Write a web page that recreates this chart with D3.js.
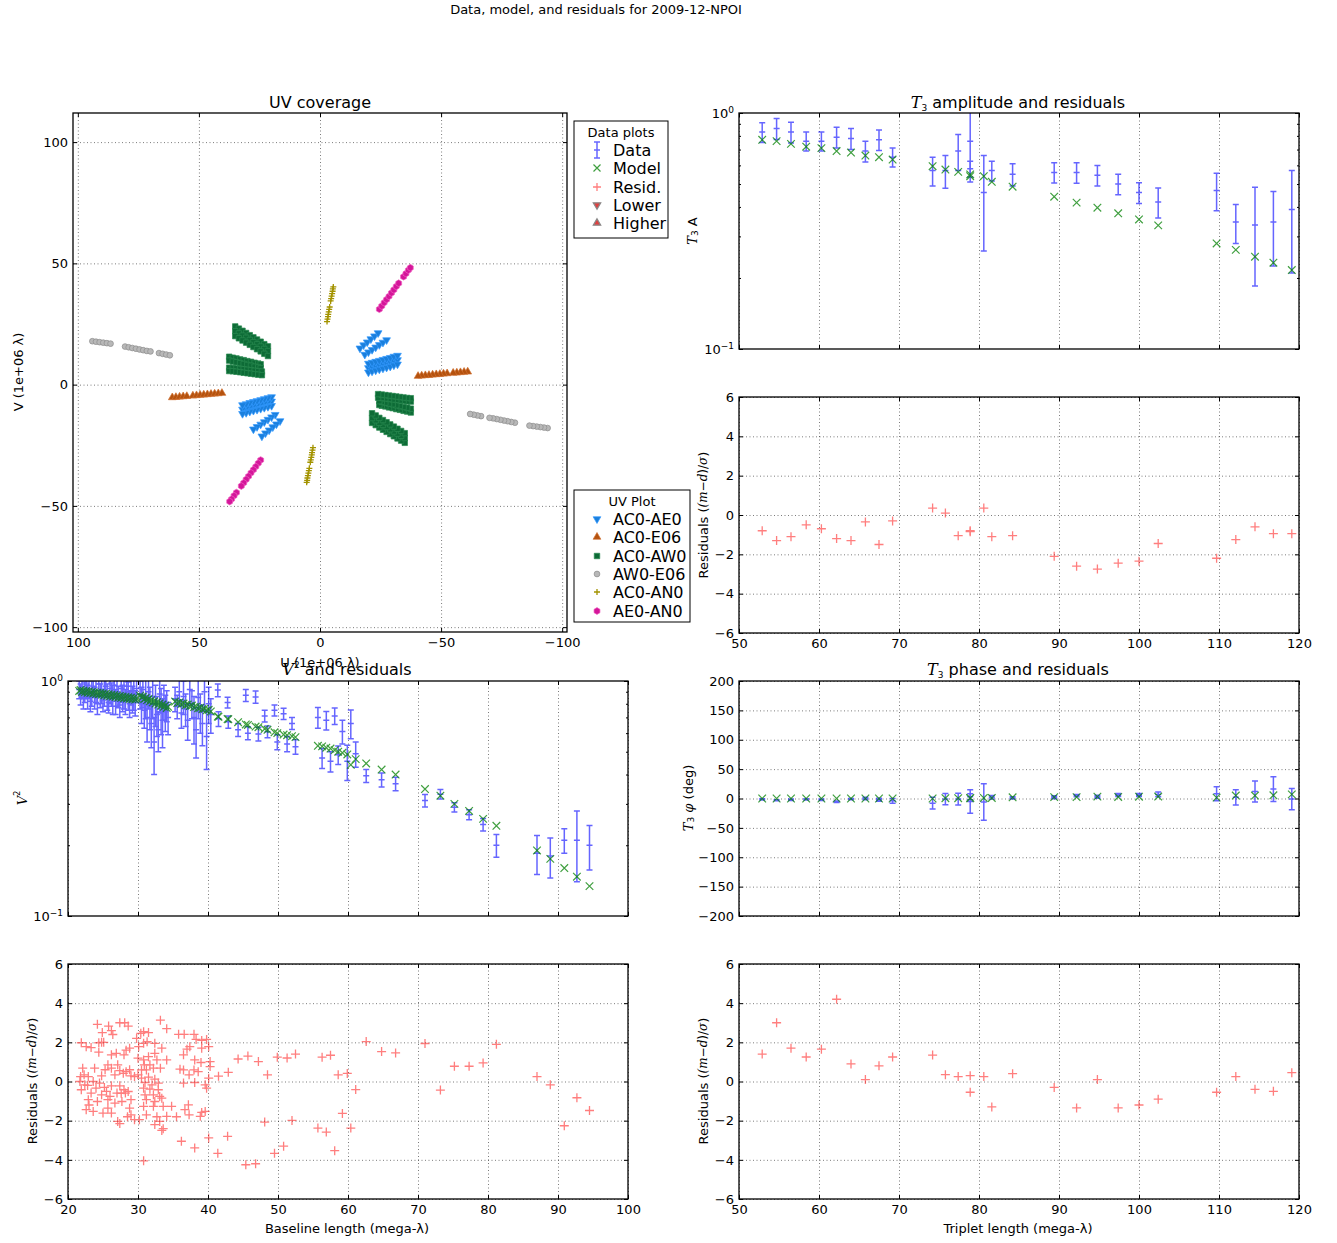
<!DOCTYPE html>
<html><head><meta charset="utf-8">
<script src="https://cdn.jsdelivr.net/npm/d3@7"></script>
<style>body{margin:0;background:#fff} text{font-family:"DejaVu Sans",sans-serif;fill:#000}</style>
</head><body><svg id="c" width="1337" height="1243"></svg>
<script>
// ---------------- DATA ----------------
const uvTicks = [100,50,0,-50,-100];
const t3xTicks = [50,60,70,80,90,100,110,120];
const v2xTicks = [20,30,40,50,60,70,80,90,100];
const residTicks = [-6,-4,-2,0,2,4,6];
const phaseTicks = [-200,-150,-100,-50,0,50,100,150,200];
const logTicks = [0.1,1];
const logMinor = [0.2,0.3,0.4,0.5,0.6,0.7,0.8,0.9];

// UV coverage (one half; conjugate points (-u,-v) are also plotted)
const uvAE0u = [-16.5,-18,-19.5,-21,-22.5,-24, -18.5,-20,-21.5,-23,-24.5,-26,-27.5,
  -20,-21.5,-23,-24.5,-26,-27.5,-29,-30.5,-32, -20,-21.5,-23,-24.5,-26,-27.5,-29,-30.5,-32, -20,-21.5,-23,-24.5,-26,-27.5,-29,-30.5,-32];
const uvAE0v = [15.0,16.3,17.5,18.8,20.0,21.3, 12.4,13.4,14.4,15.4,16.4,17.4,18.4,
  6.9,7.3,7.7,8.1,8.5,8.9,9.3,9.8,10.2, 8.7,9.1,9.5,9.9,10.3,10.7,11.1,11.6,12.0, 5.1,5.5,5.9,6.3,6.7,7.1,7.5,8.0,8.4];
const uvE06u = [61,59.5,58,56.5,55, 52.5,51,49.5,48,46.5,45, 43.5,42,40.5];
const uvE06v = [-5.3,-5.2,-5.05,-4.9,-4.8, -4.6,-4.45,-4.3,-4.2,-4.05,-3.9, -3.8,-3.65,-3.5];
const uvAW0u = [35,33.5,32,30.5,29,27.5,26,24.5,23,21.5, 35,33.5,32,30.5,29,27.5,26,24.5,23,21.5, 35,33.5,32,30.5,29,27.5,26,24.5,23,21.5,
  37.5,36,34.5,33,31.5,30,28.5,27,25.5,24.5, 37.5,36,34.5,33,31.5,30,28.5,27,25.5,24.5,
  37.5,36,34.5,33,31.5,30,28.5,27,25.5,24, 37.5,36,34.5,33,31.5,30,28.5,27,25.5,24];
const uvAW0v = [24.0,23.1,22.2,21.3,20.4,19.5,18.6,17.7,16.7,15.8, 22.0,21.1,20.2,19.3,18.4,17.5,16.6,15.7,14.7,13.8, 20.0,19.1,18.2,17.3,16.4,15.5,14.6,13.7,12.7,11.8,
  11.5,11.1,10.8,10.4,10.1,9.7,9.4,9.0,8.7,8.4, 9.9,9.5,9.2,8.8,8.5,8.1,7.8,7.4,7.1,6.8,
  7.0,6.9,6.7,6.5,6.3,6.1,5.9,5.7,5.5,5.4, 5.6,5.5,5.3,5.1,4.9,4.7,4.5,4.3,4.1,3.9];
const uvW06u = [94,92.5,91,89.5,88,86.5, 80.5,79,77.5,76,74.5,73,71.5,70, 66.5,65,63.5,62];
const uvW06v = [17.9,17.7,17.5,17.3,17.1,16.9, 15.7,15.4,15.1,14.8,14.5,14.2,13.9,13.7, 13.0,12.7,12.4,12.1];
const uvAN0u = [-2.9,-3.1,-3.3,-3.4,-3.6,-3.8,-4.0, -4.4,-4.6,-4.8,-5.0,-5.2,-5.3,-5.5];
const uvAN0v = [26,27,28,29,30,31,32, 34.5,35.5,36.5,37.5,38.5,39.5,40.3];
const uvEANu = [-24.5,-25.5,-26.5,-27.5,-28.5,-29.5,-30.5,-31.5,-32.5, -34.5,-35.5,-36.5,-37.3];
const uvEANv = [31.1,32.4,33.8,35.1,36.4,37.8,39.1,40.5,41.8, 44.5,45.8,47.2,48.2];

// Triple products
const t3x = [52.9,54.7,56.5,58.4,60.3,62.2,64.0,65.8,67.5,69.2,74.2,75.8,77.4,78.9,78.9,80.6,81.6,84.2,89.4,92.2,94.8,97.4,100.0,102.4,109.7,112.1,114.5,116.8,119.1];
const t3ampData = [0.83,0.86,0.83,0.76,0.76,0.79,0.78,0.69,0.77,0.65,0.57,0.57,0.69,0.76,0.58,0.46,0.57,0.55,0.56,0.56,0.545,0.50,0.46,0.42,0.47,0.345,0.335,0.345,0.39];
const t3ampErr = [0.08,0.087,0.083,0.07,0.07,0.08,0.08,0.07,0.077,0.06,0.08,0.09,0.12,0.25,0.045,0.2,0.055,0.06,0.055,0.056,0.054,0.05,0.046,0.061,0.085,0.065,0.15,0.12,0.18];
const t3ampModel = [0.77,0.76,0.74,0.72,0.71,0.69,0.68,0.66,0.65,0.635,0.595,0.576,0.563,0.549,0.54,0.54,0.511,0.487,0.442,0.417,0.397,0.376,0.354,0.334,0.28,0.263,0.246,0.232,0.216];
const t3ampResid = [-0.8,-1.3,-1.1,-0.5,-0.7,-1.2,-1.3,-0.35,-1.5,-0.3,0.35,0.1,-1.05,-0.85,-0.8,0.35,-1.1,-1.05,-2.1,-2.6,-2.75,-2.45,-2.35,-1.45,-2.2,-1.25,-0.6,-0.95,-0.95];
const t3phiData = [-1.5,-3,-2,-1.5,-2,-5.5,-1,0,-2,-4,-8,-1,-1,-5,3,-6,2,1,2,5,3,6,6,7,8,2,12,16,-1];
const t3phiErr = [1.1,1,1.2,1.2,1.2,1.3,1.1,2,2.5,4,10,9.5,10,20,5,31,3,2,2.5,2,2.5,2.5,2.5,4,12,13,18,21,18];
const t3phiModel = [0,0,0,0,0,0,0,0,0,0,0,0.5,0.5,1,0.5,1,1,2,2.3,2.3,3.2,2.6,3,3.4,1.5,5,5,5.5,7];
const t3phiResid = [1.4,3.0,1.7,1.25,1.65,4.2,0.9,0.1,0.8,1.25,1.35,0.35,0.25,0.3,-0.55,0.25,-1.3,0.4,-0.3,-1.35,0.1,-1.35,-1.2,-0.9,-0.55,0.25,-0.4,-0.5,0.45];

// Squared visibilities
const v2x = [21.6,21.8,22.0,22.2,22.4,22.6,22.8,23.0,23.2,23.4,23.6,23.8,24.0,24.2,24.4,24.6,24.8,25.0,25.2,25.4,25.6,25.8,26.0,26.2,26.4,26.6,26.8,27.0,27.2,27.4,27.6,27.8,28.0,28.2,28.4,28.6,28.8,29.0,29.2,29.4,29.6,29.8,
  30.3,30.5,30.7,30.9,31.1,31.3,31.5,31.7,31.9,32.1,32.3,32.5,32.7,32.9,33.1,33.3,33.5,33.7,33.9,34.1,34.3,
  35.3,35.6,35.9,36.2,36.5,36.8,37.1,37.4,37.7,38.0,38.3,38.6,38.9,39.2,39.5,39.8,40.1,40.4,
  41.4,41.5,42.8,42.9,44.3,45.4,45.7,46.8,47.2,48.1,48.5,49.5,49.9,50.8,51.3,52.0,52.5,55.7,56.3,56.9,57.5,58.1,58.6,59.2,59.9,60.4,61.1,62.6,64.8,66.8,71.0,73.2,75.2,77.3,79.3,81.2,87.0,88.9,90.9,92.7,94.5];
const v2Data = [0.92,0.88,0.95,0.84,0.90,0.97,0.86,0.93,0.82,0.89,0.95,0.85,0.91,0.80,0.97,0.87,0.92,0.83,0.90,0.95,0.86,0.81,0.93,0.88,0.84,0.96,0.82,0.90,0.86,0.79,0.93,0.85,0.89,0.82,0.95,0.87,0.80,0.91,0.84,0.88,0.81,0.93,
  0.88,0.80,0.92,0.75,0.85,0.70,0.90,0.78,0.66,0.86,0.55,0.80,0.72,0.62,0.88,0.76,0.68,0.82,0.74,0.79,0.70,
  0.84,0.78,0.90,0.73,0.86,0.76,0.68,0.92,0.80,0.70,0.62,0.85,0.74,0.66,0.90,0.58,0.80,0.72,
  0.915,0.69,0.81,0.67,0.62,0.87,0.60,0.855,0.595,0.71,0.608,0.75,0.55,0.725,0.54,0.66,0.525,0.70,0.47,0.68,0.455,0.71,0.485,0.61,0.455,0.66,0.49,0.395,0.38,0.365,0.31,0.33,0.29,0.27,0.245,0.20,0.185,0.18,0.21,0.21,0.20];
const v2Err = [0.08,0.09,0.10,0.08,0.09,0.12,0.10,0.09,0.08,0.11,0.09,0.09,0.10,0.08,0.11,0.10,0.12,0.09,0.12,0.10,0.11,0.08,0.13,0.10,0.12,0.11,0.10,0.12,0.09,0.09,0.12,0.11,0.13,0.10,0.13,0.12,0.10,0.12,0.11,0.13,0.10,0.12,
  0.12,0.14,0.15,0.12,0.16,0.15,0.14,0.16,0.14,0.17,0.15,0.16,0.14,0.12,0.15,0.17,0.16,0.14,0.13,0.12,0.11,
  0.10,0.09,0.12,0.10,0.14,0.12,0.12,0.13,0.11,0.16,0.15,0.16,0.14,0.13,0.15,0.16,0.14,0.12,
  0.057,0.05,0.043,0.04,0.04,0.051,0.038,0.051,0.04,0.041,0.035,0.04,0.04,0.04,0.04,0.039,0.037,0.071,0.046,0.062,0.045,0.057,0.044,0.07,0.078,0.092,0.06,0.025,0.026,0.024,0.019,0.015,0.013,0.013,0.015,0.022,0.035,0.035,0.025,0.07,0.043];
const v2Model = [0.907,0.915,0.898,0.910,0.895,0.906,0.892,0.903,0.888,0.899,0.884,0.896,0.880,0.892,0.878,0.889,0.874,0.886,0.870,0.882,0.866,0.878,0.862,0.875,0.858,0.871,0.855,0.867,0.851,0.863,0.848,0.859,0.845,0.856,0.842,0.852,0.839,0.849,0.836,0.846,0.833,0.843,
  0.866,0.852,0.857,0.838,0.846,0.829,0.838,0.820,0.829,0.811,0.820,0.802,0.812,0.794,0.803,0.785,0.794,0.776,0.786,0.768,0.777,
  0.818,0.806,0.810,0.798,0.802,0.790,0.794,0.782,0.786,0.774,0.778,0.766,0.770,0.758,0.762,0.750,0.754,0.742,
  0.706,0.705,0.689,0.688,0.668,0.653,0.650,0.640,0.636,0.625,0.620,0.605,0.600,0.592,0.588,0.582,0.577,0.530,0.527,0.520,0.516,0.508,0.500,0.495,0.487,0.440,0.465,0.446,0.420,0.400,0.347,0.325,0.300,0.280,0.259,0.242,0.190,0.175,0.160,0.147,0.134];
const v2ResX = [24.2,25.8,24.9,26.2,26.4,27.4,28.1,28.6,21.9,22.6,23.3,24.4,24.8,25.1,24.4,26.2,26.9,28.3,28.8,28.0,25.7,25.3,26.2,27.1,27.4,27.9,28.3,28.8,22.1,23.8,22.3,22.9,24.8,21.8,26.7,29.0,29.5,23.6,24.5,21.7,22.4,24.0,25.2,26.2,27.4,28.0,28.6,21.9,23.3,24.8,26.0,27.0,28.2,29.0,22.9,24.2,25.7,26.7,27.7,22.6,23.6,25.7,26.2,28.8,25.0,29.0,27.1,28.5,29.5,27.4,30.2,30.4,30.1,30.0,30.0,29.8,23.0,22.8,25.5,27.6,
  33.2,34.1,35.8,36.6,38.0,38.3,39.1,39.8,30.8,31.5,31.3,32.4,30.8,33.4,37.0,37.4,39.1,40.1,32.4,31.5,32.7,34.1,36.5,38.1,39.0,40.3,30.8,30.9,31.7,30.5,31.2,32.2,33.2,36.0,36.5,38.0,38.6,37.3,40.3,30.5,31.5,32.4,31.0,32.0,32.9,36.5,38.1,39.6,40.1,30.8,31.7,32.9,39.8,31.0,32.2,33.1,31.2,32.4,33.4,30.8,32.2,33.6,34.8,36.7,37.2,39.1,39.6,31.2,32.7,34.1,35.5,37.3,38.9,33.1,32.4,33.6,33.4,36.2,38.1,40.1,30.8,
  41.4,41.5,42.8,42.9,44.3,45.4,45.7,46.8,47.2,48.1,48.5,49.5,49.9,50.8,51.3,52.0,52.5,55.7,56.3,56.9,57.5,58.1,58.6,59.2,59.9,60.4,61.1,62.6,64.8,66.8,71.0,73.2,75.2,77.3,79.3,81.2,87.0,88.9,90.9,92.7,94.5];
const v2Resid = [2.92,2.83,2.5,2.6,2.4,3.0,3.0,2.83,1.98,1.78,1.73,1.98,2.0,2.0,1.5,1.36,1.44,1.6,1.7,1.36,0.85,0.6,0.68,0.85,0.56,0.42,0.5,0.6,0.68,0.68,0.34,0.25,0.29,0.25,0.34,0.29,0.25,0,-0.08,0,-0.17,-0.34,-0.3,-0.22,-0.22,-0.42,-0.51,-0.42,-0.59,-0.68,-0.76,-0.59,-0.59,-0.93,-0.93,-1.02,-0.93,-1.1,-1.02,-1.44,-1.53,-1.36,-1.61,-1.36,-1.61,-1.7,-2.04,-1.8,-1.95,-2.15,-1.95,2.46,1.78,1.19,0.34,2.2,-1.2,-0.2,-0.5,-0.6,
  3.13,2.7,2.41,2.41,2.41,2.15,2.1,2.15,2.54,2.5,2.03,1.95,1.95,1.7,1.65,1.78,1.7,1.78,1.44,1.27,1.1,1.1,1.36,1.1,0.97,1.02,1.1,0.85,0.85,0.59,0.59,0.68,0.68,0.63,0.59,0.59,0.5,0.34,0.76,0.17,0.22,0.12,-0.05,-0.17,-0.08,-0.08,-0.05,-0.17,0.17,-0.34,-0.39,-0.42,-0.34,-0.68,-0.68,-0.76,-0.93,-1.02,-0.85,-1.27,-1.27,-1.27,-1.27,-1.44,-1.19,-1.58,-1.53,-1.7,-1.8,-1.78,-1.8,-1.7,-1.78,-2.04,-2.2,-2.41,-2.5,-3.05,-3.39,-2.88,-4.05,
  -3.67,0.27,-2.8,0.47,1.15,-4.25,1.3,-4.2,1.02,-2.07,0.34,-3.67,1.24,-3.3,1.2,-1.99,1.4,-2.38,1.24,-2.58,1.34,-3.53,0.34,-1.63,0.41,-2.38,-0.41,2.04,1.53,1.46,1.94,-0.44,0.78,0.78,0.95,1.9,0.25,-0.17,-2.26,-0.83,-1.48];

// ---------------- DRAWING ----------------
const svg = d3.select('#c');
let clipN = 0;
const BLUE = '#0000ff', GREEN = '#008000', RED = '#ff0000';

function panel(o){
  const g = svg.append('g');
  const x = d3.scaleLinear().domain(o.xd).range([o.x0, o.x0 + o.w]);
  const y = (o.log ? d3.scaleLog() : d3.scaleLinear()).domain(o.yd).range([o.y0 + o.h, o.y0]);
  const id = 'clip' + (clipN++);
  svg.append('clipPath').attr('id', id).append('rect')
    .attr('x', o.x0).attr('y', o.y0).attr('width', o.w).attr('height', o.h);
  const grid = g.append('g');
  grid.append('g').attr('transform', `translate(0,${o.y0 + o.h})`)
    .call(d3.axisBottom(x).tickValues(o.xt).tickSize(-o.h).tickFormat(''));
  if (o.yg) grid.append('g').attr('transform', `translate(${o.x0},0)`)
    .call(d3.axisLeft(y).tickValues(o.yg).tickSize(-o.w).tickFormat(''));
  grid.selectAll('.domain').remove();
  grid.selectAll('line').attr('stroke', '#000').attr('stroke-width', 0.8)
    .attr('stroke-dasharray', '1,2.5').attr('opacity', 0.65);
  const data = g.append('g').attr('clip-path', `url(#${id})`);
  const axes = g.append('g');
  const fmt = o.fmt || d3.format('d');
  axes.append('g').attr('transform', `translate(0,${o.y0 + o.h})`)
    .call(d3.axisBottom(x).tickValues(o.xt).tickSize(-4).tickPadding(6).tickFormat(o.xlab ? fmt : ''));
  axes.append('g').attr('transform', `translate(0,${o.y0})`)
    .call(d3.axisTop(x).tickValues(o.xt).tickSize(-4).tickFormat(''));
  const left = axes.append('g').attr('transform', `translate(${o.x0},0)`)
    .call(d3.axisLeft(y).tickValues(o.yt).tickSize(-4).tickPadding(5).tickFormat(o.log ? (d => '10') : fmt));
  axes.append('g').attr('transform', `translate(${o.x0 + o.w},0)`)
    .call(d3.axisRight(y).tickValues(o.yt).tickSize(-4).tickFormat(''));
  if (o.log) {
    axes.append('g').attr('transform', `translate(${o.x0},0)`)
      .call(d3.axisLeft(y).tickValues(logMinor).tickSize(-2).tickFormat(''));
    axes.append('g').attr('transform', `translate(${o.x0 + o.w},0)`)
      .call(d3.axisRight(y).tickValues(logMinor).tickSize(-2).tickFormat(''));
    left.selectAll('.tick text').each(function(d){
      const e = Math.round(Math.log10(d));
      d3.select(this).append('tspan').attr('dy', -5).attr('font-size', 9)
        .text(e < 0 ? '\u2212' + (-e) : '' + e);
    });
  }
  axes.selectAll('.domain').remove();
  axes.selectAll('.tick line').attr('stroke', '#000').attr('stroke-width', 1);
  axes.selectAll('.tick text').attr('font-size', 13).attr('fill', '#000')
    .attr('font-family', '"DejaVu Sans",sans-serif');
  g.append('rect').attr('x', o.x0).attr('y', o.y0).attr('width', o.w).attr('height', o.h)
    .attr('fill', 'none').attr('stroke', '#000').attr('stroke-width', 1.3);
  return {x, y, data, o};
}

function errorbars(p, xs, d, e){
  const pts = xs.map((v, i) => ({x: v, d: d[i], e: e[i]}));
  const lo = p.o.log ? p.o.yd[0] * 0.5 : -1e9;
  const g = p.data.append('g').attr('stroke', BLUE).attr('stroke-width', 1.5).attr('opacity', 0.6).attr('fill', 'none');
  g.selectAll('path').data(pts).join('path').attr('d', q => {
    const X = p.x(q.x), Y1 = p.y(q.d + q.e), Y2 = p.y(Math.max(q.d - q.e, lo)), Y = p.y(q.d);
    return `M${X},${Y1}V${Y2}M${X - 3},${Y1}h6M${X - 3},${Y2}h6M${X - 3},${Y}h6`;
  });
}
function crosses(p, xs, ys, col, h, op, sw){
  const pts = xs.map((v, i) => [v, ys[i]]);
  p.data.append('g').attr('stroke', col).attr('stroke-width', sw).attr('opacity', op).attr('fill', 'none')
    .selectAll('path').data(pts).join('path').attr('d', q => {
      const X = p.x(q[0]), Y = p.y(q[1]);
      return `M${X - h},${Y - h}l${2 * h},${2 * h}M${X - h},${Y + h}l${2 * h},${-2 * h}`;
    });
}
function pluses(p, xs, ys, col, h, op, sw){
  const pts = xs.map((v, i) => [v, ys[i]]);
  p.data.append('g').attr('stroke', col).attr('stroke-width', sw).attr('opacity', op).attr('fill', 'none')
    .selectAll('path').data(pts).join('path').attr('d', q => {
      const X = p.x(q[0]), Y = p.y(q[1]);
      return `M${X - h},${Y}h${2 * h}M${X},${Y - h}v${2 * h}`;
    });
}

function txt(x, y, s, size, anchor, rot){
  const t = svg.append('text').attr('x', x).attr('y', y).attr('font-size', size)
    .attr('text-anchor', anchor || 'middle');
  if (rot) t.attr('transform', `rotate(-90,${x},${y})`).attr('dominant-baseline', 'central');
  if (typeof s === 'string') t.text(s);
  else s.forEach(part => {
    const sp = t.append('tspan').text(part.t);
    if (part.it) sp.attr('font-family', '"DejaVu Serif",serif').attr('font-style', 'italic');
    if (part.fs) sp.attr('font-size', part.fs);
    if (part.dy) sp.attr('dy', part.dy);
  });
  return t;
}
const T3 = [{t: 'T', it: 1}, {t: '3', fs: 9, dy: 3}];
const residLabel = [{t: 'Residuals ('}, {t: '(', it: 1, fs: 12}, {t: 'm', it: 1, fs: 12}, {t: '\u2212', fs: 12}, {t: 'd', it: 1, fs: 12}, {t: ')/', fs: 12}, {t: '\u03c3', it: 1, fs: 12}, {t: ')'}];

// main title
txt(596, 14, 'Data, model, and residuals for 2009-12-NPOI', 13);

// ---- UV coverage ----
const uv = panel({x0: 73, y0: 113, w: 494, h: 519, xd: [102, -102], yd: [-102, 112], xt: uvTicks, yt: uvTicks, yg: uvTicks, xlab: true});
const hexType = {draw(ctx, size){
  const r = Math.sqrt(size / (1.5 * Math.sqrt(3)));
  for (let i = 0; i < 6; i++) {
    const a = Math.PI / 3 * i + Math.PI / 6;
    if (i === 0) ctx.moveTo(r * Math.cos(a), r * Math.sin(a)); else ctx.lineTo(r * Math.cos(a), r * Math.sin(a));
  }
  ctx.closePath();
}};
const uvSeries = [
  {name: 'AC0-AE0', u: uvAE0u, v: uvAE0v, type: d3.symbolTriangle, rot: 180, size: 26, fill: '#1a7fdc', stroke: '#3399ff'},
  {name: 'AC0-E06', u: uvE06u, v: uvE06v, type: d3.symbolTriangle, rot: 0, size: 26, fill: '#b5520e', stroke: '#d07030'},
  {name: 'AC0-AW0', u: uvAW0u, v: uvAW0v, type: d3.symbolSquare, rot: 0, size: 30, fill: '#0d6b36', stroke: '#2a8a50'},
  {name: 'AW0-E06', u: uvW06u, v: uvW06v, type: d3.symbolCircle, rot: 0, size: 26, fill: '#b8b8b8', stroke: '#8c8c8c'},
  {name: 'AC0-AN0', u: uvAN0u, v: uvAN0v, type: 'plus', rot: 0, size: 0, fill: 'none', stroke: '#a39300'},
  {name: 'AE0-AN0', u: uvEANu, v: uvEANv, type: hexType, rot: 0, size: 30, fill: '#d4169a', stroke: '#f060c0'}
];
function drawSym(g, s, X, Y){
  if (s.type === 'plus') {
    g.append('path').attr('d', `M${X - 3},${Y}h6M${X},${Y - 3}v6`).attr('stroke', s.stroke).attr('stroke-width', 1.3).attr('fill', 'none');
  } else {
    g.append('path').attr('d', d3.symbol().type(s.type).size(s.size)())
      .attr('transform', `translate(${X},${Y}) rotate(${s.rot})`)
      .attr('fill', s.fill).attr('stroke', s.stroke).attr('stroke-width', 0.7);
  }
}
uvSeries.forEach(s => {
  const g = uv.data.append('g');
  s.u.forEach((u, i) => {
    drawSym(g, s, uv.x(u), uv.y(s.v[i]));
    drawSym(g, s, uv.x(-u), uv.y(-s.v[i]));
  });
});
txt(320, 108, 'UV coverage', 16);
txt(18, 372, 'V (1e+06 \u03bb)', 13, 'middle', true);
txt(320, 667, 'U (1e+06 \u03bb)', 13);

// legends
const lg1 = svg.append('g');
lg1.append('rect').attr('x', 574).attr('y', 121).attr('width', 94).attr('height', 117).attr('fill', '#fff').attr('stroke', '#000').attr('stroke-width', 1);
txt(621, 137, 'Data plots', 13);
const lgY = [150, 168, 187, 205, 223];
const lgNames = ['Data', 'Model', 'Resid.', 'Lower', 'Higher'];
lgNames.forEach((n, i) => txt(613, lgY[i] + 6, n, 16, 'start'));
lg1.append('path').attr('d', `M597,${lgY[0] - 8}V${lgY[0] + 8}M594,${lgY[0] - 8}h6M594,${lgY[0] + 8}h6M594,${lgY[0]}h6`).attr('stroke', BLUE).attr('stroke-width', 1.5).attr('opacity', 0.6).attr('fill', 'none');
lg1.append('path').attr('d', `M593.5,${lgY[1] - 3.5}l7,7M593.5,${lgY[1] + 3.5}l7,-7`).attr('stroke', GREEN).attr('stroke-width', 1.2).attr('opacity', 0.75);
lg1.append('path').attr('d', `M593,${lgY[2]}h8M597,${lgY[2] - 4}v8`).attr('stroke', RED).attr('stroke-width', 1.3).attr('opacity', 0.5);
lg1.append('path').attr('d', d3.symbol().type(d3.symbolTriangle).size(24)()).attr('transform', `translate(597,${lgY[3]}) rotate(180)`).attr('fill', '#e04040').attr('stroke', '#888').attr('stroke-width', 1.2);
lg1.append('path').attr('d', d3.symbol().type(d3.symbolTriangle).size(24)()).attr('transform', `translate(597,${lgY[4]})`).attr('fill', '#e04040').attr('stroke', '#888').attr('stroke-width', 1.2);

const lg2 = svg.append('g');
lg2.append('rect').attr('x', 574).attr('y', 490).attr('width', 116).attr('height', 132).attr('fill', '#fff').attr('stroke', '#000').attr('stroke-width', 1);
txt(632, 506, 'UV Plot', 13);
const lg2Y = [519, 537, 556, 574, 592, 611];
uvSeries.forEach((s, i) => {
  drawSym(lg2, s, 597, lg2Y[i]);
  txt(613, lg2Y[i] + 6, s.name, 16, 'start');
});

// ---- T3 amplitude ----
const ta = panel({x0: 739, y0: 113, w: 560, h: 236, xd: [50, 120], yd: [0.1, 1], log: true, xt: t3xTicks, yt: logTicks, yg: null, xlab: false});
errorbars(ta, t3x, t3ampData, t3ampErr);
crosses(ta, t3x, t3ampModel, GREEN, 3.8, 0.75, 1.2);
txt(1018, 108, [...T3, {t: ' amplitude and residuals', dy: -3}], 16);
txt(692, 231, [...T3, {t: ' A', dy: -3}], 13, 'middle', true);

const tar = panel({x0: 739, y0: 397, w: 560, h: 236, xd: [50, 120], yd: [-6, 6], xt: t3xTicks, yt: residTicks, yg: residTicks, xlab: true});
pluses(tar, t3x, t3ampResid, RED, 4.5, 0.5, 1.3);
txt(703, 515, residLabel, 13, 'middle', true);

// ---- V2 ----
const v2 = panel({x0: 68, y0: 681, w: 560, h: 235, xd: [20, 100], yd: [0.1, 1], log: true, xt: v2xTicks, yt: logTicks, yg: null, xlab: false});
errorbars(v2, v2x, v2Data, v2Err);
crosses(v2, v2x, v2Model, GREEN, 3.8, 0.75, 1.2);
txt(347, 675, [{t: 'V', it: 1}, {t: '2', fs: 9, dy: -7}, {t: ' and residuals', dy: 7}], 16);
txt(22, 798, [{t: 'V', it: 1}, {t: '2', fs: 8, dy: -5}], 13, 'middle', true);

const v2r = panel({x0: 68, y0: 964, w: 560, h: 235, xd: [20, 100], yd: [-6, 6], xt: v2xTicks, yt: residTicks, yg: residTicks, xlab: true});
pluses(v2r, v2ResX, v2Resid, RED, 4.5, 0.5, 1.3);
txt(32, 1081, residLabel, 13, 'middle', true);
txt(347, 1233, 'Baseline length (mega-\u03bb)', 13);

// ---- T3 phase ----
const tp = panel({x0: 739, y0: 681, w: 560, h: 235, xd: [50, 120], yd: [-200, 200], xt: t3xTicks, yt: phaseTicks, yg: phaseTicks, xlab: false});
errorbars(tp, t3x, t3phiData, t3phiErr);
crosses(tp, t3x, t3phiModel, GREEN, 3.8, 0.75, 1.2);
txt(1018, 675, [...T3, {t: ' phase and residuals', dy: -3}], 16);
txt(688, 798, [...T3, {t: ' \u03c6', it: 1, dy: -3}, {t: ' (deg)'}], 13, 'middle', true);

const tpr = panel({x0: 739, y0: 964, w: 560, h: 235, xd: [50, 120], yd: [-6, 6], xt: t3xTicks, yt: residTicks, yg: residTicks, xlab: true});
pluses(tpr, t3x, t3phiResid, RED, 4.5, 0.5, 1.3);
txt(703, 1081, residLabel, 13, 'middle', true);
txt(1018, 1233, 'Triplet length (mega-\u03bb)', 13);
</script></body></html>
